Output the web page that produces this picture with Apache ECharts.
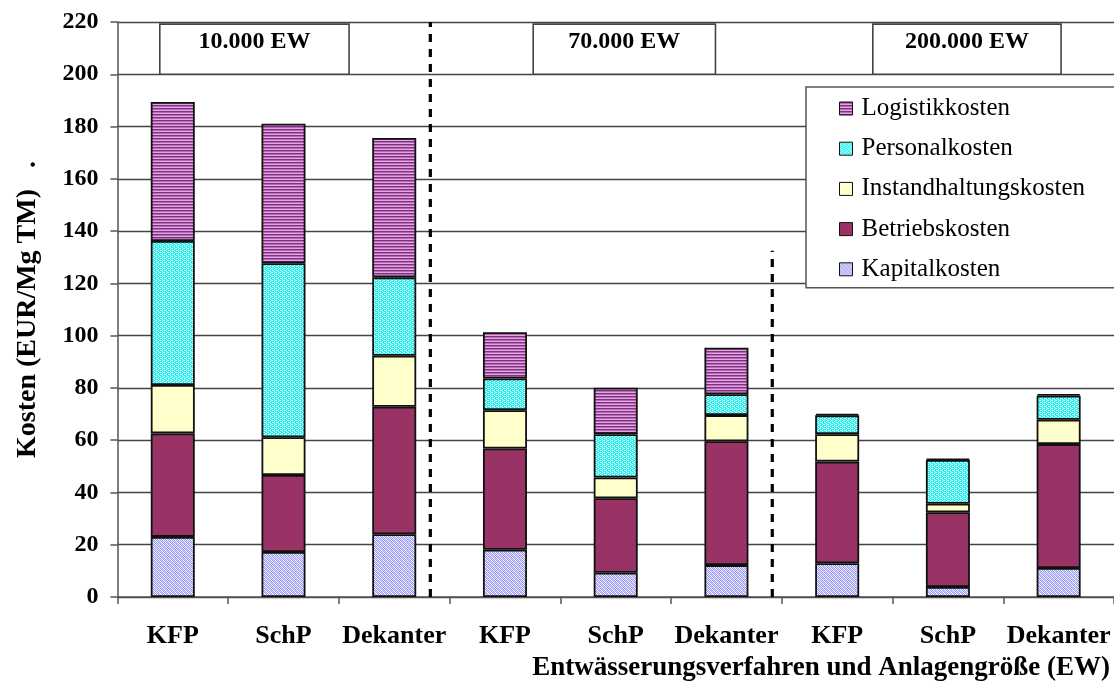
<!DOCTYPE html>
<html>
<head>
<meta charset="utf-8">
<script src="https://cdn.jsdelivr.net/npm/echarts@6/dist/echarts.min.js"></script>
<style>
  html, body { margin: 0; padding: 0; background: #fff; }
  #chart { width: 1114px; height: 684px; }
</style>
</head>
<body>
<div id="chart"></div>
<script>
// Dewatering cost per tonne of dry matter, by method and plant size
const categories = ['KFP', 'SchP', 'Dekanter', 'KFP', 'SchP', 'Dekanter', 'KFP', 'SchP', 'Dekanter'];
const kapitalkosten = [23, 17.2, 24, 18.1, 9.3, 12.2, 12.9, 3.8, 11.1];
const betriebskosten = [39.6, 29.5, 48.8, 38.7, 28.5, 47.4, 38.9, 28.6, 47.4];
const instandhaltungskosten = [18.5, 14.4, 19.5, 14.7, 7.9, 10.0, 10.5, 3.3, 9.3];
const personalkosten = [55.1, 66.6, 30.0, 12.1, 16.6, 8.0, 7.2, 16.7, 9.2];
const logistikkosten = [53.2, 53.4, 53.3, 17.7, 17.8, 17.8, 0.6, 0.5, 0.6];
const yTicks = { min: 0, max: 220, interval: 20 };

// Plant-size group headers: [from, to] in category units, [bottom, top] in cost units
const groupLabels = ['10.000 EW', '70.000 EW', '200.000 EW'];
const groupBoxes = [
  [0.383, 2.092, 200, 219.2],
  [3.755, 5.401, 200, 219.2],
  [6.822, 8.522, 200, 219.2]
];
// Dashed separators between plant sizes: [x, top]
const separators = [
  [2.826, 220],
  [5.914, 132.5]
];

const SERIF = '"Liberation Serif", "Times New Roman", serif';

function makePattern(w, h, painter) {
  const c = document.createElement('canvas');
  c.width = w; c.height = h;
  const ctx = c.getContext('2d');
  painter(ctx);
  return { image: c, repeat: 'repeat' };
}
function px(ctx, x, y, col) { ctx.fillStyle = col; ctx.fillRect(x, y, 1, 1); }

// horizontal purple stripes
const stripePurple = makePattern(1, 3, ctx => {
  px(ctx, 0, 0, '#80307f');
  px(ctx, 0, 1, '#b868b8');
  px(ctx, 0, 2, '#e0a8e0');
});
// cyan with white speckles
const dotCyan = makePattern(4, 4, ctx => {
  ctx.fillStyle = '#22f2f2'; ctx.fillRect(0, 0, 4, 4);
  px(ctx, 0, 0, '#ffffff'); px(ctx, 2, 1, '#ffffff');
  px(ctx, 0, 2, '#ffffff'); px(ctx, 2, 3, '#ffffff');
  px(ctx, 3, 0, '#aaffff'); px(ctx, 1, 2, '#aaffff');
});
// lavender diagonal checker
const checkLavender = makePattern(4, 4, ctx => {
  ctx.fillStyle = '#ffffff'; ctx.fillRect(0, 0, 4, 4);
  for (let y = 0; y < 4; y++) {
    for (let x = 0; x < 4; x++) {
      if ((x + y) % 2 === 0) px(ctx, x, y, '#9c9cf6');
      else if ((x - y + 4) % 4 === 1) px(ctx, x, y, '#d4d4fb');
    }
  }
});

const barBase = {
  type: 'bar',
  stack: 'kosten',
  barWidth: 44,
  xAxisIndex: 0,
  yAxisIndex: 0
};
const border = { borderColor: '#111', borderWidth: 1.8 };

const chart = echarts.init(document.getElementById('chart'), null, { renderer: 'canvas' });

chart.setOption({
  animation: false,
  backgroundColor: '#fff',
  grid: { left: 117.4, top: 22, width: 1000.8, height: 575, containLabel: false },
  legend: {
    data: ['Logistikkosten', 'Personalkosten', 'Instandhaltungskosten', 'Betriebskosten', 'Kapitalkosten'],
    orient: 'vertical',
    left: 806,
    top: 87,
    padding: [9, 60, 6, 33],
    itemGap: 15.2,
    itemWidth: 13,
    itemHeight: 13,
    icon: 'rect',
    backgroundColor: '#fff',
    borderColor: '#555',
    borderWidth: 1.5,
    itemStyle: { borderColor: '#111', borderWidth: 1 },
    textStyle: { fontFamily: SERIF, fontSize: 25, color: '#000', lineHeight: 25, padding: [0, 0, 0, 4] },
    selectedMode: false
  },
  xAxis: [
    {
      type: 'category',
      data: categories,
      boundaryGap: true,
      axisLine: { lineStyle: { color: '#555', width: 1.5 } },
      axisTick: { show: true, length: 7, lineStyle: { color: '#555', width: 1.5 } },
      axisLabel: {
        margin: 26,
        fontFamily: SERIF,
        fontWeight: 'bold',
        fontSize: 26,
        color: '#000',
        interval: 0
      },
      splitLine: { show: false },
      name: 'Entwässerungsverfahren und Anlagengröße (EW)',
      nameLocation: 'end',
      nameGap: -4,
      nameTextStyle: {
        fontFamily: SERIF,
        fontWeight: 'bold',
        fontSize: 27,
        color: '#000',
        align: 'right',
        verticalAlign: 'top',
        padding: [58, 0, 0, 0]
      }
    },
    {
      type: 'value',
      min: 0,
      max: 9,
      show: false,
      splitLine: { show: false }
    }
  ],
  yAxis: {
    type: 'value',
    min: yTicks.min,
    max: yTicks.max,
    interval: yTicks.interval,
    axisLine: { show: true, lineStyle: { color: '#555', width: 1.5 } },
    axisTick: { show: true, length: 7, lineStyle: { color: '#555', width: 1.5 } },
    axisLabel: {
      margin: 19,
      fontFamily: SERIF,
      fontWeight: 'bold',
      fontSize: 24,
      color: '#000'
    },
    splitLine: { show: true, lineStyle: { color: '#444', width: 1.3 } },
    name: 'Kosten (EUR/Mg TM)   .',
    nameLocation: 'middle',
    nameGap: 76,
    nameTextStyle: {
      fontFamily: SERIF,
      fontWeight: 'bold',
      fontSize: 28,
      color: '#000'
    }
  },
  series: [
    Object.assign({}, barBase, {
      name: 'Kapitalkosten',
      data: kapitalkosten,
      itemStyle: Object.assign({ color: checkLavender }, border)
    }),
    Object.assign({}, barBase, {
      name: 'Betriebskosten',
      data: betriebskosten,
      itemStyle: Object.assign({ color: '#993366' }, border)
    }),
    Object.assign({}, barBase, {
      name: 'Instandhaltungskosten',
      data: instandhaltungskosten,
      itemStyle: Object.assign({ color: '#ffffcc' }, border)
    }),
    Object.assign({}, barBase, {
      name: 'Personalkosten',
      data: personalkosten,
      itemStyle: Object.assign({ color: dotCyan }, border)
    }),
    Object.assign({}, barBase, {
      name: 'Logistikkosten',
      data: logistikkosten,
      itemStyle: Object.assign({ color: stripePurple }, border)
    }),
    // dashed separators
    ...separators.map((s, i) => ({
      type: 'line',
      name: 'sep' + i,
      xAxisIndex: 1,
      yAxisIndex: 0,
      data: [[s[0], 0], [s[0], s[1]]],
      symbol: 'none',
      silent: true,
      z: 4,
      lineStyle: { color: '#000', width: 3.2, type: [8, 7] }
    })),
    // plant-size header boxes
    {
      type: 'custom',
      name: 'groups',
      xAxisIndex: 1,
      yAxisIndex: 0,
      silent: true,
      z: 5,
      data: groupBoxes,
      encode: { x: [0, 1], y: [2, 3] },
      renderItem: function (params, api) {
        const tl = api.coord([api.value(0), api.value(3)]);
        const br = api.coord([api.value(1), api.value(2)]);
        return {
          type: 'group',
          children: [
            {
              type: 'rect',
              shape: { x: tl[0], y: tl[1], width: br[0] - tl[0], height: br[1] - tl[1] },
              style: { fill: '#fff', stroke: '#444', lineWidth: 1.6 }
            },
            {
              type: 'text',
              style: {
                text: groupLabels[params.dataIndex],
                x: (tl[0] + br[0]) / 2,
                y: tl[1] + 18,
                align: 'center',
                verticalAlign: 'middle',
                font: 'bold 24px ' + SERIF,
                fill: '#000'
              }
            }
          ]
        };
      }
    }
  ]
});
</script>
</body>
</html>
